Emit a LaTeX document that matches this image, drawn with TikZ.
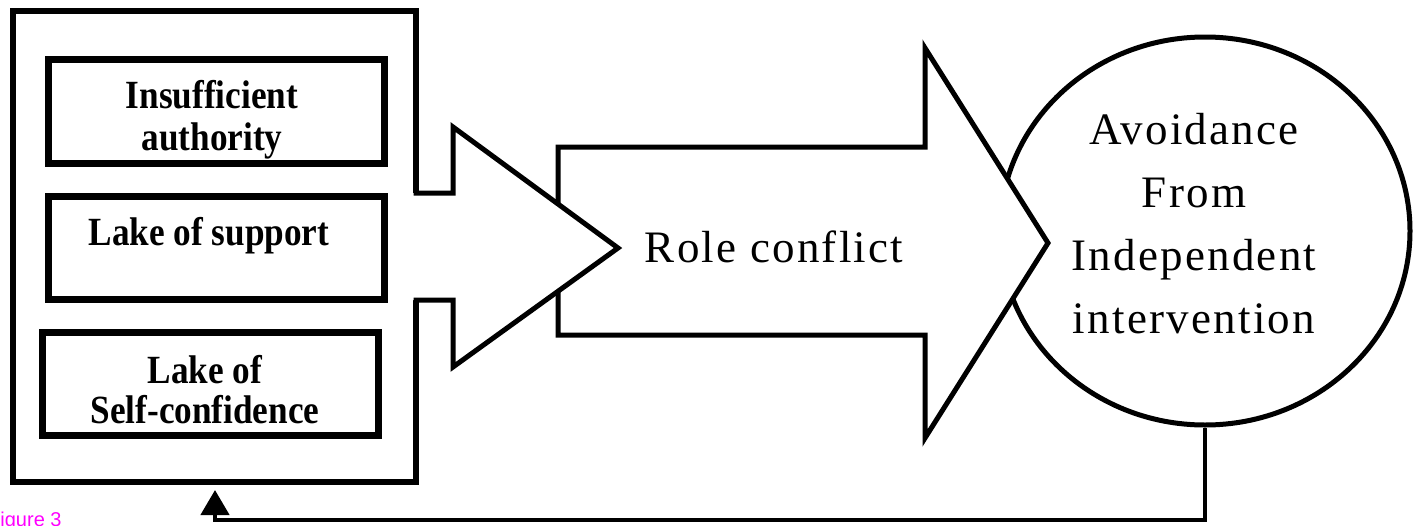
\documentclass[tikz,border=0pt]{standalone}
\usepackage{fontspec}
\setmainfont{Liberation Serif}
\newfontfamily\boxfont[FakeStretch=0.88,UprightFont={* Bold}]{Liberation Serif}
\newfontfamily\spfont[LetterSpace=5]{Liberation Serif}
\newfontfamily\capfont{Liberation Sans}
\usetikzlibrary{shapes.geometric,arrows.meta}
\definecolor{figmag}{RGB}{255,0,255}
\begin{document}
\begin{tikzpicture}[x=1pt,y=-1pt,
  outline/.style={draw=black,line width=6pt,fill=white,rectangle,inner sep=0pt},
  bigarrow/.style={draw=black,line width=5pt,fill=white,line join=miter},
  causebox/.style={draw=black,line width=7pt,fill=white,rectangle,inner sep=0pt,minimum width=336pt},
  causetext/.style={font=\boxfont\fontsize{40}{42}\selectfont,align=center,inner sep=0pt},
  bigtext/.style={font=\spfont\fontsize{45}{63}\selectfont,align=center,inner sep=0pt},
  feedback/.style={draw=black,line width=4.5pt,-{Triangle[length=25pt,width=28pt]}}]
\useasboundingbox (0,0) rectangle (1416,525);
\clip (0,0) rectangle (1416,525);

% outcome ellipse
\node[ellipse,draw=black,line width=5pt,fill=white,minimum width=410pt,minimum height=388pt,inner sep=0pt] (goal) at (1205,231) {};

% big arrow (role conflict)
\draw[bigarrow] (558,147) -- (925,147) -- (925,48) -- (1048,243) -- (925,438) -- (925,335) -- (558,335) -- cycle;

% outer frame of causes
\node[outline,minimum width=403pt,minimum height=471pt] (outer) at (214.5,246.5) {};

% small arrow leaving the frame
\fill[white] (408,193) -- (453,193) -- (453,127) -- (618,248) -- (453,367) -- (453,300) -- (408,300) -- cycle;
\draw[bigarrow,fill=none] (416,188) -- (416,193) -- (453,193) -- (453,127) -- (618,248) -- (453,367) -- (453,300) -- (416,300) -- (416,305);

% cause boxes
\node[causebox,minimum height=103.5pt] (b1) at (216,111.25) {};
\node[causebox,minimum height=103pt] (b2) at (216,247.5) {};
\node[causebox,minimum height=103pt] (b3) at (210,383.5) {};

\node[causetext] (t1) at (212,119.7) {Insufficient\\authority};
\node[causetext,anchor=base] (t2) at (209,245) {Lake of support};
\node[causetext,font=\boxfont\fontsize{40}{40}\selectfont] (t3) at (205,389.4) {Lake of\\Self-confidence};

% texts
\node[bigtext,anchor=base] (role) at (774,262) {Role conflict};
\node[bigtext] (goaltext) at (1194,224) {Avoidance\\From\\Independent\\intervention};

% feedback loop
\coordinate (fbcorner) at (215,520);
\coordinate (fbtip) at (215,490);
\draw[feedback] (goal.south) |- (fbcorner) -- (fbtip);

% caption
\node[font=\capfont\fontsize{20}{20}\selectfont,text=figmag,anchor=base west,inner sep=0pt] (figcap) at (-12,526) {Figure 3};
\end{tikzpicture}
\end{document}
